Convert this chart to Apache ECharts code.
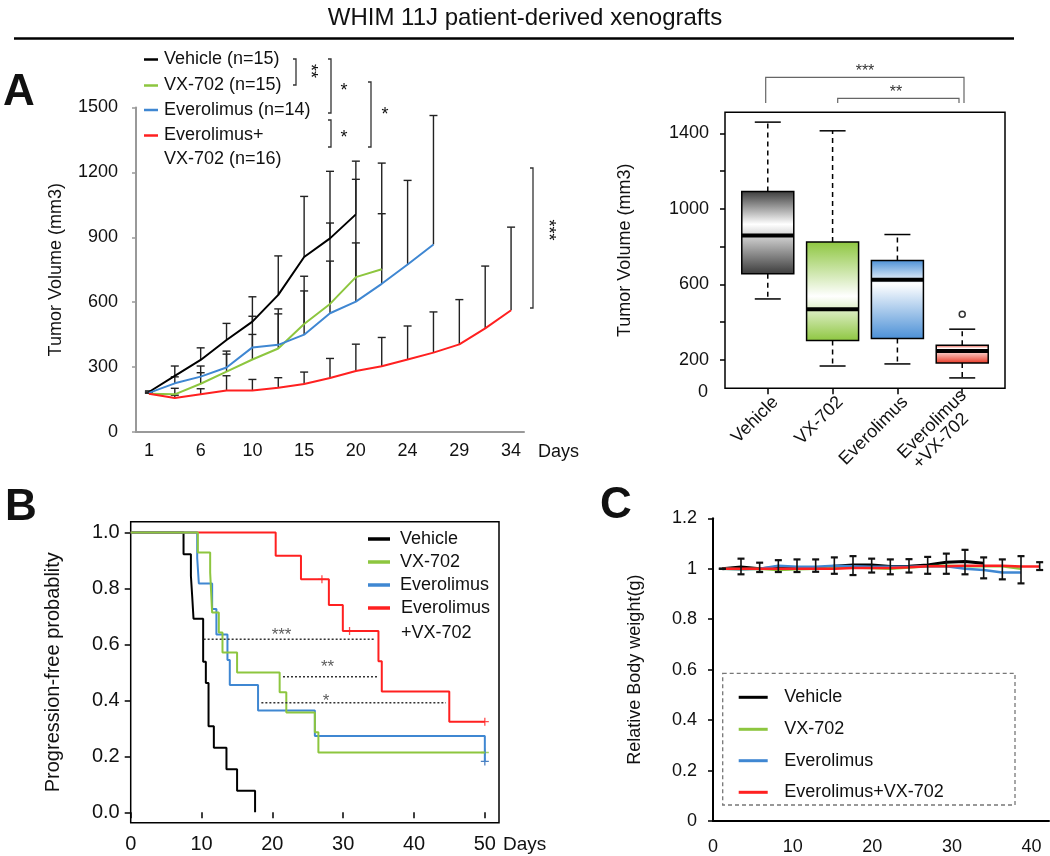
<!DOCTYPE html>
<html>
<head>
<meta charset="utf-8">
<script src="https://cdn.jsdelivr.net/npm/echarts@6/dist/echarts.min.js"></script>
<style>
html, body { margin: 0; padding: 0; background: #fff; }
#main { width: 1050px; height: 856px; }
</style>
</head>
<body>
<div id="main"></div>
<script>
// group colours shared by every panel
const colVehicle = '#000000';
const colVX = '#8dc63f';
const colEve = '#3f87d2';
const colCombo = '#ff2020';
const FONT = '"Liberation Sans", Arial, sans-serif';

// ---- A (left): tumour growth, mean + upper error ----
const growthDays = ['1', '3', '6', '8', '10', '13', '15', '17', '20', '22', '24', '27', '29', '31', '34'];
const growthVehicle = [185, 259, 333, 425, 510, 634, 809, 895, 1006];
const growthVX = [177, 174, 223, 279, 335, 386, 499, 592, 716, 752];
const growthEve = [181, 225, 256, 298, 391, 403, 450, 549, 603, 685, 774, 867];
const growthCombo = [177, 157, 175, 192, 192, 205, 222, 250, 282, 304, 335, 367, 405, 479, 563];
const growthVehicleTop = [190, 305, 389, 502, 625, 814, 1089, 1205, 1252];
const growthVXTop = [180, 202, 274, 360, 451, 569, 720, 966, 1168, 1243];
const growthEveTop = [185, 255, 305, 374, 535, 546, 652, 790, 874, 1009, 1163, 1463];
const growthComboTop = [180, 170, 200, 260, 243, 251, 277, 340, 406, 437, 490, 555, 612, 767, 947];

// ---- A (right): box plot ----
const boxNames = ['Vehicle', 'VX-702', 'Everolimus', 'Everolimus\n+VX-702   '];
const boxLow = [523, 168, 179, 105];
const boxQ1 = [656, 303, 313, 184];
const boxMedian = [859, 469, 624, 248];
const boxQ3 = [1092, 825, 726, 278];
const boxHigh = [1459, 1413, 864, 363];
const boxOutliers = [[4, 442]];
const boxLabelValues = [200, 600, 1000, 1400];
const boxTickValues = [200, 400, 600, 800, 1000, 1200, 1400];
const boxColors = ['#3a3a3a', colVX, '#4a8fd6', '#e8321e'];
const boxWhiteStop = [0.4, 0.55, 0.3, 0.2];

// ---- B: Kaplan-Meier ----
const kmVehicleTime = [0, 7.46, 8.5, 8.69, 8.87, 10.23, 10.61, 10.99, 11.74, 13.52, 15.02, 17.56];
const kmVehicleSurv = [1, 0.923, 0.846, 0.769, 0.692, 0.538, 0.462, 0.308, 0.231, 0.154, 0.077, 0];
const kmVXTime = [0, 9.48, 11.22, 11.5, 12.44, 12.96, 15.02, 21.03, 21.97, 26.0, 26.5, 50];
const kmVXSurv = [1, 0.929, 0.857, 0.714, 0.643, 0.571, 0.5, 0.429, 0.357, 0.286, 0.214, 0.214];
const kmEveTime = [0, 9.39, 9.62, 11.5, 12.1, 13.66, 13.99, 17.98, 26.0, 50];
const kmEveSurv = [1, 0.909, 0.818, 0.727, 0.636, 0.545, 0.455, 0.364, 0.273, 0.182];
const kmComboTime = [0, 20.47, 24.04, 27.98, 29.95, 34.98, 35.45, 44.98, 50];
const kmComboSurv = [1, 0.917, 0.833, 0.741, 0.648, 0.540, 0.432, 0.324, 0.324];
const kmCensorVX = [[50, 0.214]];
const kmCensorEve = [[50, 0.182]];
const kmCensorCombo = [[27.0, 0.833], [30.9, 0.648], [50, 0.324]];
const kmSigLines = [
  [[10.3, 0.619], [34.4, 0.619]],
  [[21.5, 0.485], [35.0, 0.485]],
  [[18.45, 0.392], [44.5, 0.392]]
];
const kmSigMarks = [
  { value: [21.3, 0.646], name: '***' },
  { value: [27.8, 0.533], name: '**' },
  { value: [27.6, 0.413], name: '*' }
];
const kmYTicks = [0, 0.2, 0.4, 0.6, 0.8, 1.0];
const kmXTicks = [0, 10, 20, 30, 40, 50];

// ---- C: body weight ----
const weightDays = ['1', '3', '6', '8', '10', '13', '15', '17', '20', '22', '24', '27', '29', '31', '34', '36', '38', '41'];
const weightVehicle = [1.0, 1.007, 1.0, 1.005, 1.001, 1.001, 1.01, 1.015, 1.015, 1.009, 1.01, 1.015, 1.026, 1.029, 1.022];
const weightVX = [1.0, 0.998, 1.0, 0.995, 0.998, 1.0, 1.003, 1.005, 1.003, 1.0, 1.005, 1.01, 1.012, 1.01, 1.01, 1.01, 1.0];
const weightEve = [1.0, 0.998, 1.0, 1.012, 1.008, 1.008, 1.012, 1.01, 1.008, 1.008, 1.008, 1.01, 1.01, 1.0, 0.995, 0.985, 0.985];
const weightCombo = [1.0, 1.0, 1.0, 1.0, 1.0, 1.0, 1.0, 1.003, 1.003, 1.003, 1.006, 1.01, 1.01, 1.012, 1.012, 1.012, 1.009, 1.009];
const weightErrHigh = [1.0, 1.04, 1.024, 1.034, 1.037, 1.037, 1.045, 1.05, 1.04, 1.037, 1.038, 1.047, 1.06, 1.075, 1.045, 1.037, 1.05, 1.026];
const weightErrLow = [1.0, 0.978, 0.987, 0.987, 0.987, 0.988, 0.98, 0.975, 0.985, 0.978, 0.985, 0.98, 0.98, 0.978, 0.962, 0.958, 0.942, 0.995];
const weightDayLabels = [0, 10, 20, 30, 40];

const zip = (a, b) => a.map((v, i) => [v, b[i]]);

function upperBar(params, api) {
  const base = api.coord([api.value(0), api.value(1)]);
  const top = api.coord([api.value(0), api.value(2)]);
  const s = { stroke: '#222', lineWidth: 1.4 };
  return { type: 'group', children: [
    { type: 'line', shape: { x1: base[0], y1: base[1], x2: top[0], y2: top[1] }, style: s },
    { type: 'line', shape: { x1: top[0] - 4, y1: top[1], x2: top[0] + 4, y2: top[1] }, style: s }
  ] };
}

function rangeBar(params, api) {
  const lo = api.coord([api.value(0), api.value(1)]);
  const hi = api.coord([api.value(0), api.value(2)]);
  const s = { stroke: '#111', lineWidth: 1.6 };
  return { type: 'group', children: [
    { type: 'line', shape: { x1: lo[0], y1: lo[1], x2: hi[0], y2: hi[1] }, style: s },
    { type: 'line', shape: { x1: hi[0] - 3.5, y1: hi[1], x2: hi[0] + 3.5, y2: hi[1] }, style: { stroke: '#111', lineWidth: 2.2 } },
    { type: 'line', shape: { x1: lo[0] - 3.5, y1: lo[1], x2: lo[0] + 3.5, y2: lo[1] }, style: { stroke: '#111', lineWidth: 2.2 } }
  ] };
}

function boxItem(params, api) {
  const i = api.value(0);
  const k = params.dataIndex;
  const lo = api.coord([i, api.value(1)]);
  const q1 = api.coord([i, api.value(2)]);
  const md = api.coord([i, api.value(3)]);
  const q3 = api.coord([i, api.value(4)]);
  const hi = api.coord([i, api.value(5)]);
  const cx = md[0], hw = 26, cw = 13;
  const c = boxColors[k];
  const solid = { stroke: '#000', lineWidth: 1.5 };
  const dash = { stroke: '#000', lineWidth: 1.5, lineDash: [5, 4] };
  const fill = new echarts.graphic.LinearGradient(0, 0, 0, 1, [
    { offset: 0, color: c }, { offset: boxWhiteStop[k], color: '#ffffff' }, { offset: 1, color: c }
  ]);
  return { type: 'group', children: [
    { type: 'line', shape: { x1: cx, y1: q3[1], x2: cx, y2: hi[1] }, style: dash },
    { type: 'line', shape: { x1: cx, y1: q1[1], x2: cx, y2: lo[1] }, style: dash },
    { type: 'line', shape: { x1: cx - cw, y1: hi[1], x2: cx + cw, y2: hi[1] }, style: solid },
    { type: 'line', shape: { x1: cx - cw, y1: lo[1], x2: cx + cw, y2: lo[1] }, style: solid },
    { type: 'rect', shape: { x: cx - hw, y: q3[1], width: hw * 2, height: q1[1] - q3[1] },
      style: { fill: fill, stroke: '#000', lineWidth: 1.5 } },
    { type: 'line', shape: { x1: cx - hw, y1: md[1], x2: cx + hw, y2: md[1] }, style: { stroke: '#000', lineWidth: 4 } }
  ] };
}

// graphic helpers (annotations, legends, labels)
function txt(x, y, text, size, align, extra) {
  return Object.assign({
    type: 'text', x: x, y: y,
    style: { text: text, font: size + 'px ' + FONT, fill: '#111',
      textAlign: align || 'left', align: align || 'left',
      textVerticalAlign: 'middle', verticalAlign: 'middle' }
  }, extra || {});
}
function bold(x, y, text) {
  return { type: 'text', x: x, y: y,
    style: { text: text, font: 'bold 44px ' + FONT, fill: '#111', verticalAlign: 'middle', textVerticalAlign: 'middle' } };
}
function star(x, y, text) {
  return { type: 'text', x: x, y: y,
    style: { text: text, font: '16px ' + FONT, fill: '#333', align: 'center', textAlign: 'center',
      verticalAlign: 'middle', textVerticalAlign: 'middle' } };
}
function seg(x1, y1, x2, y2, color, w) {
  return { type: 'line', shape: { x1, y1, x2, y2 }, style: { stroke: color, lineWidth: w } };
}
function poly(points, color, w) {
  return { type: 'polyline', shape: { points }, style: { stroke: color, lineWidth: w, fill: null } };
}
const BR = '#333';

const graphics = [
  txt(525, 18, 'WHIM 11J patient-derived xenografts', 24, 'center'),
  seg(14, 38.5, 1014, 38.5, '#000', 2.5),
  bold(3, 93, 'A'),
  bold(5, 508, 'B'),
  bold(600, 506, 'C'),

  // A legend
  seg(144, 59.5, 158, 59.5, colVehicle, 2.5), txt(164, 59.5, 'Vehicle (n=15)', 18),
  seg(144, 85.5, 158, 85.5, colVX, 2.5), txt(164, 85.5, 'VX-702 (n=15)', 18),
  seg(144, 110, 158, 110, colEve, 2.5), txt(164, 110, 'Everolimus (n=14)', 18),
  seg(144, 135.5, 158, 135.5, colCombo, 2.5), txt(164, 135.5, 'Everolimus+', 18),
  txt(164, 159.5, 'VX-702 (n=16)', 18),
  // A brackets
  poly([[293, 59], [296, 59], [296, 85], [293, 85]], BR, 1.3),
  txt(310, 71, '**', 18, 'center', { rotation: -Math.PI / 2 }),
  poly([[328, 59], [331, 59], [331, 113], [328, 113]], BR, 1.3),
  txt(344, 91, '*', 18, 'center'),
  poly([[328, 120], [331, 120], [331, 147], [328, 147]], BR, 1.3),
  txt(344, 138, '*', 18, 'center'),
  poly([[368, 82], [371, 82], [371, 147], [368, 147]], BR, 1.3),
  txt(385, 115, '*', 18, 'center'),
  poly([[530, 168], [533, 168], [533, 308], [530, 308]], BR, 1.3),
  txt(548, 230, '***', 18, 'center', { rotation: -Math.PI / 2 }),
  txt(538, 452, 'Days', 18),

  // box plot: bottom "0" label and brackets
  txt(708, 392, '0', 18, 'right'),
  poly([[765.7, 103], [765.7, 77.3], [964, 77.3], [964, 103]], '#666', 1.2),
  star(865, 72, '***'),
  poly([[837.7, 103], [837.7, 98.3], [959, 98.3], [959, 103]], '#666', 1.2),
  star(896, 93, '**'),

  // B legend
  seg(368, 539, 390, 539, colVehicle, 3.5), txt(400, 539, 'Vehicle', 18),
  seg(368, 562, 390, 562, colVX, 3.5), txt(400, 562, 'VX-702', 18),
  seg(368, 585, 390, 585, colEve, 3.5), txt(400, 585, 'Everolimus', 18),
  seg(368, 608, 390, 608, colCombo, 3.5), txt(401, 608, 'Everolimus', 18),
  txt(401, 633, '+VX-702', 18),
  txt(503, 845, 'Days', 19),

  // C legend
  { type: 'rect', shape: { x: 722.7, y: 673.3, width: 292.3, height: 131.7 },
    style: { fill: null, stroke: '#777', lineWidth: 1.3, lineDash: [4, 3] } },
  seg(738.7, 697.3, 767.7, 697.3, colVehicle, 3), txt(784.3, 697.3, 'Vehicle', 18),
  seg(738.7, 729.3, 767.7, 729.3, colVX, 3), txt(784.3, 729.3, 'VX-702', 18),
  seg(738.7, 760.7, 767.7, 760.7, colEve, 3), txt(784.3, 760.7, 'Everolimus', 18),
  seg(738.7, 792.3, 767.7, 792.3, colCombo, 3), txt(784.3, 792.3, 'Everolimus+VX-702', 18)
];

const growthBars = []
  .concat(growthVehicle.map((v, i) => [i, v, growthVehicleTop[i]]))
  .concat(growthVX.map((v, i) => [i, v, growthVXTop[i]]))
  .concat(growthEve.map((v, i) => [i, v, growthEveTop[i]]))
  .concat(growthCombo.map((v, i) => [i, v, growthComboTop[i]]));

const boxData = boxLow.map((v, i) => [i + 1, v, boxQ1[i], boxMedian[i], boxQ3[i], boxHigh[i]]);
const boxLabelPos = [1.12, 2.12, 3.12, 4.12]; // rotated names sit a little right of the ticks
const weightBars = weightErrLow.map((v, i) => [i, v, weightErrHigh[i]]);

const plusSymbol = 'path://M4.2,0h1.6v10h-1.6z M0,4.2h10v1.6h-10z';
const lbl = { color: '#111', fontFamily: FONT };
const plain = v => String(v);

const option = {
  animation: false,
  textStyle: { fontFamily: FONT, color: '#111' },
  graphic: graphics,
  grid: [
    { left: 136, right: 526, top: 107.5, bottom: 424 },
    { left: 725, right: 45, top: 112.3, bottom: 467.7, show: true, borderColor: '#000', borderWidth: 1.5 },
    { left: 130.7, right: 551, top: 521.7, bottom: 33.3, show: true, borderColor: '#000', borderWidth: 1.5 },
    { left: 713, right: 1, top: 518.3, bottom: 34.3 }
  ],
  xAxis: [
    { type: 'category', gridIndex: 0, data: growthDays, boundaryGap: true,
      axisLine: { lineStyle: { color: '#999', width: 2 } },
      axisTick: { interval: 0, length: 5, lineStyle: { color: '#999', width: 1.5 } },
      axisLabel: Object.assign({ interval: 1, fontSize: 18, margin: 10 }, lbl) },
    { type: 'value', gridIndex: 1, min: 0.34, max: 4.66,
      axisLine: { show: false }, splitLine: { show: false },
      axisTick: { show: true, customValues: [1, 2, 3, 4], length: 6, lineStyle: { color: '#000', width: 1.5 } },
      axisLabel: Object.assign({ customValues: boxLabelPos, rotate: 45, fontSize: 18, margin: 11,
        formatter: v => boxNames[Math.round(v) - 1] }, lbl) },
    { type: 'value', gridIndex: 2, min: 0, max: 52,
      axisLine: { show: false }, splitLine: { show: false },
      axisTick: { show: true, customValues: kmXTicks, length: 6, lineStyle: { color: '#000', width: 1.5 } },
      axisLabel: Object.assign({ customValues: kmXTicks, fontSize: 20, margin: 12 }, lbl) },
    { type: 'category', gridIndex: 3, data: weightDays, boundaryGap: true, position: 'bottom',
      axisLine: { lineStyle: { color: '#000', width: 2 } },
      axisTick: { interval: 0, length: 5, lineStyle: { color: '#000', width: 1.5 } },
      axisLabel: { show: false } },
    { type: 'value', gridIndex: 3, min: 0, max: 42.19, position: 'bottom',
      axisLine: { show: false }, axisTick: { show: false }, splitLine: { show: false },
      axisLabel: Object.assign({ customValues: weightDayLabels, fontSize: 18, margin: 17 }, lbl) }
  ],
  yAxis: [
    { type: 'value', gridIndex: 0, min: 0, max: 1500, interval: 300,
      axisLine: { show: true, lineStyle: { color: '#999', width: 2 } },
      axisTick: { show: true, length: 4, lineStyle: { color: '#999', width: 1.5 } },
      splitLine: { show: false },
      axisLabel: Object.assign({ fontSize: 18, margin: 18, formatter: plain }, lbl),
      name: 'Tumor Volume (mm3)', nameLocation: 'middle', nameGap: 71,
      nameTextStyle: { fontSize: 18, color: '#111', fontFamily: FONT } },
    { type: 'value', gridIndex: 1, min: 50, max: 1511,
      axisLine: { show: false }, splitLine: { show: false },
      axisTick: { show: true, customValues: boxTickValues, length: 5, lineStyle: { color: '#000', width: 1.5 } },
      axisLabel: Object.assign({ customValues: boxLabelValues, fontSize: 18, margin: 16, formatter: plain }, lbl),
      name: 'Tumor Volume (mm3)', nameLocation: 'middle', nameGap: 91,
      nameTextStyle: { fontSize: 18, color: '#111', fontFamily: FONT } },
    { type: 'value', gridIndex: 2, min: -0.037, max: 1.039,
      axisLine: { show: false }, splitLine: { show: false },
      axisTick: { show: true, customValues: kmYTicks, length: 6, lineStyle: { color: '#000', width: 1.5 } },
      axisLabel: Object.assign({ customValues: kmYTicks, fontSize: 20, margin: 11,
        formatter: v => v.toFixed(1) }, lbl),
      name: 'Progression-free probablity', nameLocation: 'middle', nameGap: 67,
      nameTextStyle: { fontSize: 20, color: '#111', fontFamily: FONT } },
    { type: 'value', gridIndex: 3, min: 0, max: 1.2, interval: 0.2,
      axisLine: { show: true, lineStyle: { color: '#000', width: 2 } },
      axisTick: { show: true, length: 5, lineStyle: { color: '#000', width: 1.5 } },
      splitLine: { show: false },
      axisLabel: Object.assign({ fontSize: 18, margin: 16 }, lbl),
      name: 'Relative Body weight(g)', nameLocation: 'middle', nameGap: 69,
      nameTextStyle: { fontSize: 18, color: '#111', fontFamily: FONT } }
  ],
  series: [
    // A left
    { type: 'custom', xAxisIndex: 0, yAxisIndex: 0, renderItem: upperBar, data: growthBars,
      encode: { x: 0, y: [1, 2] }, z: 2 },
    { name: 'Vehicle', type: 'line', xAxisIndex: 0, yAxisIndex: 0, data: growthVehicle, symbol: 'none',
      lineStyle: { color: colVehicle, width: 2 }, z: 3 },
    { name: 'VX-702', type: 'line', xAxisIndex: 0, yAxisIndex: 0, data: growthVX, symbol: 'none',
      lineStyle: { color: colVX, width: 2 }, z: 3 },
    { name: 'Everolimus', type: 'line', xAxisIndex: 0, yAxisIndex: 0, data: growthEve, symbol: 'none',
      lineStyle: { color: colEve, width: 2 }, z: 3 },
    { name: 'Everolimus+VX-702', type: 'line', xAxisIndex: 0, yAxisIndex: 0, data: growthCombo, symbol: 'none',
      lineStyle: { color: colCombo, width: 2 }, z: 3 },

    // A right
    { type: 'custom', xAxisIndex: 1, yAxisIndex: 1, renderItem: boxItem, data: boxData,
      encode: { x: 0, y: [1, 2, 3, 4, 5] } },
    { type: 'scatter', xAxisIndex: 1, yAxisIndex: 1, data: boxOutliers, symbol: 'circle', symbolSize: 6, z: 5,
      itemStyle: { color: '#ffffff', borderColor: '#000000', borderWidth: 1.5 } },

    // B
    { type: 'line', xAxisIndex: 2, yAxisIndex: 2, step: 'end', data: zip(kmVehicleTime, kmVehicleSurv),
      symbol: 'none', lineStyle: { color: colVehicle, width: 2 } },
    { type: 'line', xAxisIndex: 2, yAxisIndex: 2, step: 'end', data: zip(kmComboTime, kmComboSurv),
      symbol: 'none', lineStyle: { color: colCombo, width: 2 } },
    { type: 'line', xAxisIndex: 2, yAxisIndex: 2, step: 'end', data: zip(kmEveTime, kmEveSurv),
      symbol: 'none', lineStyle: { color: colEve, width: 2 } },
    { type: 'line', xAxisIndex: 2, yAxisIndex: 2, step: 'end', data: zip(kmVXTime, kmVXSurv),
      symbol: 'none', lineStyle: { color: colVX, width: 2 } },
    { type: 'scatter', xAxisIndex: 2, yAxisIndex: 2, data: kmCensorCombo, symbol: plusSymbol, symbolSize: 8,
      itemStyle: { color: colCombo } },
    { type: 'scatter', xAxisIndex: 2, yAxisIndex: 2, data: kmCensorVX, symbol: plusSymbol, symbolSize: 8,
      itemStyle: { color: colVX } },
    { type: 'scatter', xAxisIndex: 2, yAxisIndex: 2, data: kmCensorEve, symbol: plusSymbol, symbolSize: 8,
      itemStyle: { color: '#2060b0' } },
  ].concat(kmSigLines.map(d => ({
    type: 'line', xAxisIndex: 2, yAxisIndex: 2, data: d, symbol: 'none',
    lineStyle: { color: '#333', width: 1.4, type: [2, 2] }
  }))).concat([
    { type: 'scatter', xAxisIndex: 2, yAxisIndex: 2, data: kmSigMarks, symbolSize: 0,
      label: { show: true, position: 'inside', formatter: '{b}', fontSize: 17, color: '#333', fontFamily: FONT, offset: [0, 4] } },

    // C
    { type: 'line', xAxisIndex: 3, yAxisIndex: 3, data: weightVehicle, symbol: 'none',
      lineStyle: { color: colVehicle, width: 3 } },
    { type: 'line', xAxisIndex: 3, yAxisIndex: 3, data: weightVX, symbol: 'none',
      lineStyle: { color: colVX, width: 2.5 } },
    { type: 'line', xAxisIndex: 3, yAxisIndex: 3, data: weightEve, symbol: 'none',
      lineStyle: { color: colEve, width: 2.5 } },
    { type: 'line', xAxisIndex: 3, yAxisIndex: 3, data: weightCombo, symbol: 'none',
      lineStyle: { color: colCombo, width: 2.5 } },
    { type: 'custom', xAxisIndex: 3, yAxisIndex: 3, renderItem: rangeBar, data: weightBars,
      encode: { x: 0, y: [1, 2] }, z: 4 }
  ])
};

const chart = echarts.init(document.getElementById('main'));
chart.setOption(option);
</script>
</body>
</html>
